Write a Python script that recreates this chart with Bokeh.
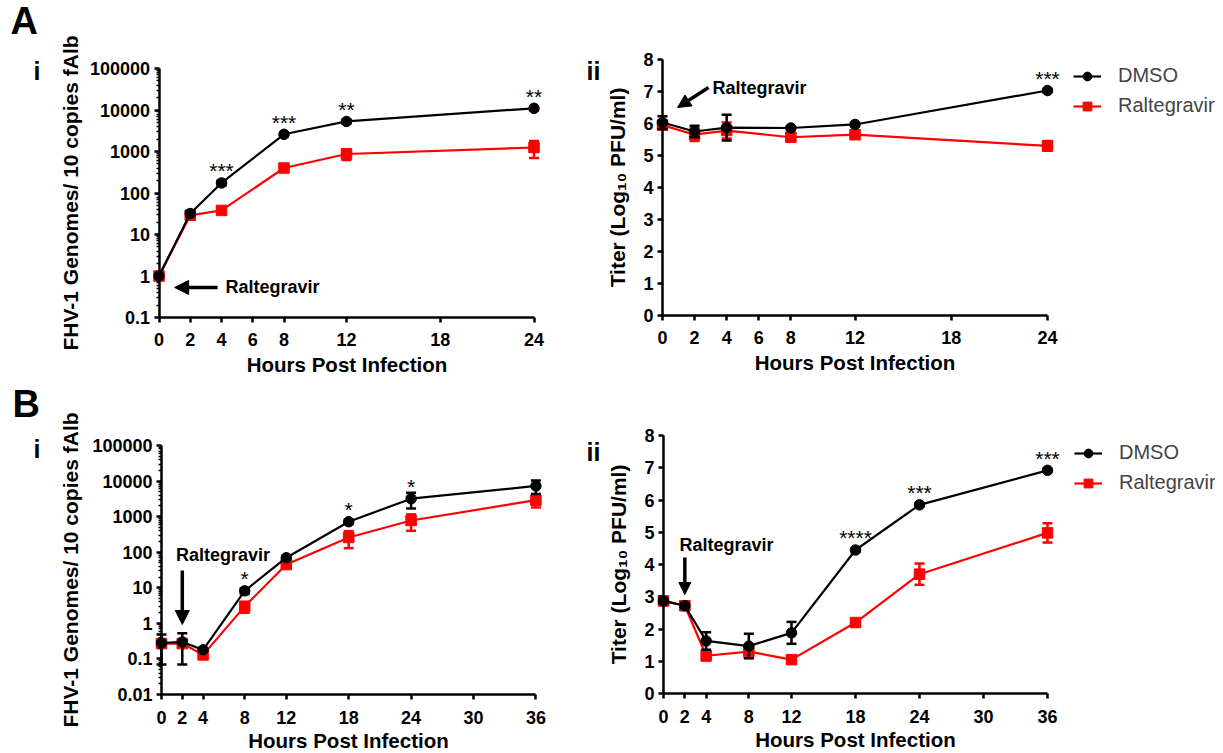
import math
from bokeh.plotting import figure
from bokeh.models import (ColumnDataSource, Range1d, FixedTicker, NumeralTickFormatter,
                          Label, Arrow, NormalHead, Legend, LegendItem)
from bokeh.layouts import column, row
from bokeh.embed import file_html
from bokeh.resources import INLINE
from bokeh.core.properties import value

FONT = "Liberation Sans"
BLACK = "#000000"
RED = "#ff0000"

# ---------------- data ----------------
hours_A = [0, 2, 4, 8, 12, 24]
genomes_A_dmso = [1.0, 32, 175, 2600, 5300, 11000]
genomes_A_dmso_err = [0.05, 4, 25, 300, 600, 1200]
genomes_A_ral = [1.0, 29, 38, 400, 870, 1250]
genomes_A_ral_err = [0.05, 3, 6, 60, 250, 550]
titer_A_dmso = [6.03, 5.75, 5.87, 5.86, 5.97, 7.03]
titer_A_dmso_err = [0.2, 0.18, 0.4, 0.05, 0.05, 0.05]
titer_A_ral = [5.95, 5.65, 5.78, 5.57, 5.65, 5.30]
titer_A_ral_err = [0.12, 0.2, 0.25, 0.12, 0.12, 0.15]

hours_B = [0, 2, 4, 8, 12, 18, 24, 36]
genomes_B_dmso = [0.28, 0.30, 0.18, 8.2, 70, 720, 3200, 7300]
genomes_B_dmso_err = [0.21, 0.23, 0.02, 1.5, 10, 100, 1500, 3000]
genomes_B_ral = [0.27, 0.27, 0.13, 3.0, 45, 260, 780, 2900]
genomes_B_ral_err = [0.05, 0.05, 0.02, 1.0, 8, 130, 380, 1100]
titer_B_dmso = [2.87, 2.72, 1.63, 1.47, 1.88, 4.45, 5.85, 6.92]
titer_B_dmso_err = [0.08, 0.06, 0.27, 0.38, 0.34, 0.06, 0.05, 0.05]
titer_B_ral = [2.87, 2.72, 1.17, 1.30, 1.05, 2.20, 3.70, 4.98]
titer_B_ral_err = [0.06, 0.06, 0.15, 0.2, 0.06, 0.08, 0.33, 0.3]

xticks_A = [0, 2, 4, 6, 8, 12, 18, 24]
xticks_B = [0, 2, 4, 8, 12, 18, 24, 30, 36]
yticks_genomes_A = [0.1, 1, 10, 100, 1000, 10000, 100000]
yticks_genomes_B = [0.01, 0.1, 1, 10, 100, 1000, 10000, 100000]
yticks_titer = [0, 1, 2, 3, 4, 5, 6, 7, 8]

sig_Ai_hours = [4, 8, 12, 24]
sig_Ai_marks = ["***", "***", "**", "**"]
sig_Aii_hours = [24]
sig_Aii_marks = ["***"]
sig_Bi_hours = [8, 18, 24]
sig_Bi_marks = ["*", "*", "*"]
sig_Bii_hours = [18, 24, 36]
sig_Bii_marks = ["****", "***", "***"]

series_names = ["DMSO", "Raltegravir"]
xlabel = "Hours Post Infection"
ylabel_genomes = "FHV-1 Genomes/ 10 copies fAlb"
ylabel_titer = "Titer (Log\u2081\u2080 PFU/ml)"
annot_text = "Raltegravir"


# ---------------- helpers ----------------
def x_range_for(px0, px1, v0, v1, width):
    s = (px1 - px0) / (v1 - v0)
    start = v0 - px0 / s
    return Range1d(start, start + width / s)


def y_range_for(py_top, py_bot, v_top, v_bot, height, log):
    if log:
        v_top, v_bot = math.log10(v_top), math.log10(v_bot)
    s = (py_bot - py_top) / (v_top - v_bot)
    start = v_bot - (height - py_bot) / s
    end = v_top + py_top / s
    if log:
        return Range1d(10 ** start, 10 ** end)
    return Range1d(start, end)


def add_series(p, hours, mean, err, color, marker):
    src = ColumnDataSource(dict(
        x=hours, y=mean,
        lo=[m - e for m, e in zip(mean, err)],
        hi=[m + e for m, e in zip(mean, err)],
    ))
    ln = p.line(x="x", y="y", source=src, line_color=color, line_width=2.2)
    p.segment(x0="x", y0="lo", x1="x", y1="hi", source=src, line_color=color, line_width=2.5)
    p.scatter(x="x", y="hi", source=src, marker="dash", size=10, line_color=color, line_width=2.5)
    p.scatter(x="x", y="lo", source=src, marker="dash", size=10, line_color=color, line_width=2.5)
    mk = p.scatter(x="x", y="y", source=src, marker=marker, size=10.5,
                   fill_color=color, line_color=color)
    return ln, mk


def make_panel(width, height, xpx, ypx, log, xticks, yticks,
               ylabel, ylabel_standoff, xlab_standoff, xaxlab_standoff,
               hours, dmso, dmso_err, ral, ral_err, sig_hours, sig_marks):
    xr = x_range_for(xpx[0], xpx[1], xticks[0], xticks[-1], width)
    yr = y_range_for(ypx[0], ypx[1], yticks[-1], yticks[0], height, log)
    p = figure(width=width, height=height, x_range=xr, y_range=yr,
               y_axis_type="log" if log else "linear",
               output_backend="svg", toolbar_location=None,
               min_border_left=0, min_border_right=0,
               min_border_top=0, min_border_bottom=0)
    p.outline_line_color = None
    p.xgrid.visible = False
    p.ygrid.visible = False
    p.background_fill_color = "white"
    p.border_fill_color = "white"

    xa = p.xaxis[0]
    ya = p.yaxis[0]
    xa.ticker = FixedTicker(ticks=xticks, minor_ticks=[])
    if log:
        ya.ticker = FixedTicker(ticks=yticks,
                                minor_ticks=[m * t for t in yticks[:-1] for m in range(2, 10)])
        ya.formatter = NumeralTickFormatter(format="0.[00]")
    else:
        ya.ticker = FixedTicker(ticks=yticks, minor_ticks=[])
    xa.bounds = (xticks[0], xticks[-1])
    ya.bounds = (yticks[0], yticks[-1])
    xa.fixed_location = yticks[0]
    ya.fixed_location = xticks[0]
    for ax in (xa, ya):
        ax.axis_line_width = 2.5
        ax.axis_line_color = BLACK
        ax.major_tick_line_width = 2.5
        ax.major_tick_line_color = BLACK
        ax.minor_tick_line_width = 1.5
        ax.minor_tick_line_color = BLACK
        ax.major_tick_out = 5
        ax.major_tick_in = 0
        ax.minor_tick_out = 3
        ax.minor_tick_in = 0
        ax.major_label_text_font = FONT
        ax.major_label_text_font_style = "bold"
        ax.major_label_text_font_size = "18px"
        ax.major_label_text_color = BLACK
        ax.axis_label_text_font = FONT
        ax.axis_label_text_font_style = "bold"
        ax.axis_label_text_color = BLACK
    xa.axis_label = xlabel
    xa.axis_label_text_font_size = "20.5px"
    xa.major_label_standoff = xlab_standoff
    xa.axis_label_standoff = xaxlab_standoff
    ya.axis_label = ylabel
    ya.axis_label_text_font_size = "21px"
    ya.major_label_standoff = 4
    ya.axis_label_standoff = ylabel_standoff

    ln_r, mk_r = add_series(p, hours, ral, ral_err, RED, "square")
    ln_b, mk_b = add_series(p, hours, dmso, dmso_err, BLACK, "circle")

    lookup = dict(zip(hours, dmso))
    sig_src = ColumnDataSource(dict(x=sig_hours, y=[lookup[h] for h in sig_hours], t=sig_marks))
    p.text(x="x", y="y", text="t", source=sig_src, text_font=value(FONT),
           text_font_size="21px", text_align="center", text_baseline="alphabetic",
           y_offset=-12, text_color=BLACK)
    return p, (ln_b, mk_b), (ln_r, mk_r)


def add_legend(p, blk, red, loc):
    leg = Legend(items=[LegendItem(label=series_names[0], renderers=list(blk)),
                        LegendItem(label=series_names[1], renderers=list(red))],
                 location=loc, label_text_font=FONT, label_text_font_size="20px",
                 glyph_width=28, glyph_height=22, label_height=22, label_standoff=17,
                 spacing=7, padding=0, margin=0, border_line_color=None,
                 background_fill_alpha=0)
    p.add_layout(leg)


def panel_label(p, text, x, y, size):
    p.add_layout(Label(x=x, y=y, x_units="screen", y_units="screen", text=text,
                       text_font=FONT, text_font_style="bold", text_font_size=size,
                       text_baseline="alphabetic", text_color=BLACK))


def annot(p, tx, ty, x0, y0, x1, y1, head):
    p.add_layout(Label(x=tx, y=ty, text=annot_text, text_font=FONT, text_font_style="bold",
                       text_font_size="18px", text_baseline="middle", text_align="left",
                       text_color=BLACK))
    p.add_layout(Arrow(end=NormalHead(size=head, fill_color=BLACK, line_color=BLACK, line_width=1),
                       x_start=x0, y_start=y0, x_end=x1, y_end=y1,
                       line_width=3.5, line_color=BLACK))


TOP_H = 378
BOT_H = 375
LEFT_W = 566
RIGHT_W = 649

# ---- A i ----
pAi, bAi, rAi = make_panel(LEFT_W, TOP_H, (158.5, 533.5), (68, 317), True,
                           xticks_A, yticks_genomes_A, ylabel_genomes, 5, 10, 4,
                           hours_A, genomes_A_dmso, genomes_A_dmso_err,
                           genomes_A_ral, genomes_A_ral_err, sig_Ai_hours, sig_Ai_marks)
panel_label(pAi, "A", 10, TOP_H - 20, "38px")
panel_label(pAi, "i", 33, TOP_H - 70, "25px")
annot(pAi, 4.26, 0.53, 3.75, 0.53, 1.0, 0.53, 14)

# ---- A ii ----
pAii, bAii, rAii = make_panel(RIGHT_W, TOP_H, (96, 481), (59, 315), False,
                              xticks_A, yticks_titer, ylabel_titer, 11, 10, 4,
                              hours_A, titer_A_dmso, titer_A_dmso_err,
                              titer_A_ral, titer_A_ral_err, sig_Aii_hours, sig_Aii_marks)
panel_label(pAii, "ii", 20, TOP_H - 70, "25px")
annot(pAii, 3.12, 7.1, 2.87, 7.125, 0.94, 6.5, 13)
add_legend(pAii, bAii, rAii, (507, TOP_H - 117))

# ---- B i ----
pBi, bBi, rBi = make_panel(LEFT_W, BOT_H, (161, 535.4), (67, 316), True,
                           xticks_B, yticks_genomes_B, ylabel_genomes, 7, 11, 2,
                           hours_B, genomes_B_dmso, genomes_B_dmso_err,
                           genomes_B_ral, genomes_B_ral_err, sig_Bi_hours, sig_Bi_marks)
panel_label(pBi, "B", 12, BOT_H - 25, "38px")
panel_label(pBi, "i", 33, BOT_H - 70, "25px")
annot(pBi, 1.4, 86, 2, 30.6, 2, 0.93, 14)

# ---- B ii ----
pBii, bBii, rBii = make_panel(RIGHT_W, BOT_H, (97, 481), (57, 315), False,
                              xticks_B, yticks_titer, ylabel_titer, 11, 11, 2,
                              hours_B, titer_B_dmso, titer_B_dmso_err,
                              titer_B_ral, titer_B_ral_err, sig_Bii_hours, sig_Bii_marks)
panel_label(pBii, "ii", 20, BOT_H - 73, "25px")
annot(pBii, 1.5, 4.62, 2, 4.22, 2, 3.07, 12)
add_legend(pBii, bBii, rBii, (508, BOT_H - 116))

layout = column(row(pAi, pAii), row(pBi, pBii))
open("out.html", "w").write(file_html(layout, INLINE))
